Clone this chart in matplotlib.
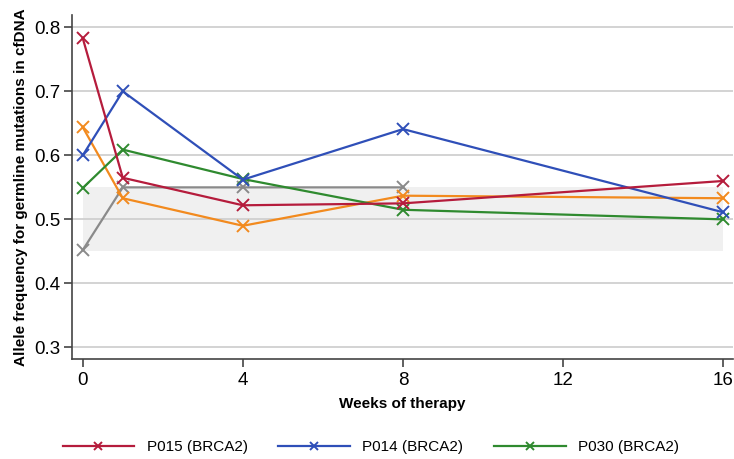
import numpy as np
import matplotlib
matplotlib.use('Agg')
import matplotlib.pyplot as plt

weeks = [0, 1, 4, 8, 16]
p015 = [0.783, 0.565, 0.522, 0.525, 0.560]
p014 = [0.600, 0.700, 0.562, 0.641, 0.511]
p030 = [0.549, 0.609, 0.563, 0.515, 0.500]
orange_pt = [0.644, 0.533, 0.490, 0.537, 0.533]
gray_weeks = [0, 1, 4, 8]
gray_pt = [0.452, 0.550, 0.550, 0.550]
band_lo, band_hi = 0.45, 0.55

plt.rcParams['font.family'] = ['Liberation Sans', 'DejaVu Sans']

fig = plt.figure(figsize=(7.34, 4.59), dpi=100)
ax = fig.add_axes([0.098, 0.218, 0.9, 0.749])

ax.fill_between([0, 16], band_lo, band_hi, color='#f0f0f0', zorder=0, linewidth=0)
for yv in [0.3, 0.4, 0.5, 0.6, 0.7, 0.8]:
    ax.axhline(yv, color='#cccccc', linewidth=1.2, zorder=0.5)

mk = dict(marker='x', markersize=8, markeredgewidth=1.4, linewidth=1.6)
ax.plot(gray_weeks, gray_pt, color='#8a8a8a', zorder=2, **mk)
ax.plot(weeks, orange_pt, color='#f28a1e', zorder=2, **mk)
ax.plot(weeks, p030, color='#2f8a2f', label='P030 (BRCA2)', zorder=3, **mk)
ax.plot(weeks, p014, color='#2f4fb8', label='P014 (BRCA2)', zorder=3, **mk)
ax.plot(weeks, p015, color='#b51c3c', label='P015 (BRCA2)', zorder=4, **mk)

ax.set_xlim(-0.27, 16.23)
ax.set_ylim(0.282, 0.819)
ax.set_xticks([0, 4, 8, 12, 16])
ax.set_yticks([0.3, 0.4, 0.5, 0.6, 0.7, 0.8])
ax.set_yticklabels(['0.3', '0.4', '0.5', '0.6', '0.7', '0.8'])
ax.tick_params(axis='both', labelsize=13.5, length=6, width=1.2, color='#444444', direction='out')
ax.tick_params(axis='y', pad=2)
for s in ['top', 'right']:
    ax.spines[s].set_visible(False)
for s in ['left', 'bottom']:
    ax.spines[s].set_color('#444444')
    ax.spines[s].set_linewidth(1.2)

ax.set_xlabel('Weeks of therapy', fontsize=11, fontweight='bold', labelpad=6)
ax.set_ylabel('Allele frequency for germline mutations in cfDNA', fontsize=11, fontweight='bold')
ax.yaxis.set_label_coords(-0.066, 0.5)

handles, labels = ax.get_legend_handles_labels()
order = [2, 1, 0]
fig.legend([handles[i] for i in order], [labels[i] for i in order],
           loc='center', bbox_to_anchor=(0.505, 0.026), ncol=3, frameon=False,
           fontsize=11, handlelength=4.7, handletextpad=0.8, columnspacing=2.0,
           markerscale=0.8)

fig.savefig('out.png', dpi=100)
